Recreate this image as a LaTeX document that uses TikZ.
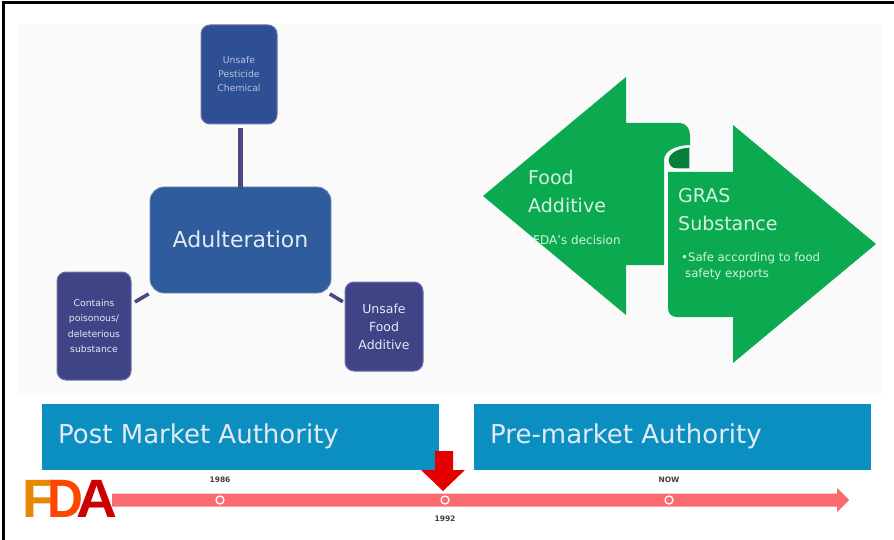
\documentclass[tikz,border=0pt]{standalone}
\usepackage{fontspec}
\setmainfont{DejaVu Sans}
\newfontfamily\logofont{Liberation Sans}
\usetikzlibrary{calc}
\definecolor{panelbg}{HTML}{FAFAFB}
\definecolor{bluemain}{HTML}{2F5C9C}
\definecolor{bluedark}{HTML}{3F4486}
\definecolor{bluetop}{HTML}{2E4F93}
\definecolor{linecol}{HTML}{4A4A82}
\definecolor{greena}{HTML}{0BAA50}
\definecolor{greend}{HTML}{067F3B}
\definecolor{teal}{HTML}{0A8FC0}
\definecolor{tline}{HTML}{FA6B70}
\definecolor{tl}{HTML}{E2EAF5}
\definecolor{tg}{HTML}{D4F2DF}
\tikzset{
  x=1pt,y=-1pt,
  rbox/.style={rounded corners=9pt,inner sep=0pt,align=center,text=tl},
  mainbox/.style={rbox,fill=bluemain,draw=bluemain!70!white,line width=.8pt,rounded corners=14pt,font=\fontsize{22}{26}\selectfont},
  subbox/.style={rbox,fill=bluedark,draw=bluedark!75!white,line width=1pt},
  conn/.style={draw=linecol,line width=4.4pt},
  band/.style={fill=teal,inner sep=0pt,anchor=north west},
  bandtext/.style={text=tl,inner sep=0pt,anchor=base west,font=\fontsize{26}{30}\selectfont},
  gtext/.style={text=tg,anchor=base west,inner sep=0pt},
  year/.style={text=black!75,font=\bfseries\fontsize{7.5}{9}\selectfont,inner sep=0pt},
  tick/.style={circle,draw=white,line width=1.3pt,fill=tline,minimum size=8pt,inner sep=0pt},
  logol/.style={inner sep=0pt,anchor=base west,font=\logofont\bfseries\fontsize{54}{54}\selectfont}
}
\begin{document}
\begin{tikzpicture}
\useasboundingbox (0,0) rectangle (894,540);
\fill[white] (0,0) rectangle (894,540);
\fill[panelbg] (18,24) rectangle (882,395);
\draw[black,line width=3pt] (3,540) -- (3,3) -- (894,3);
% Adulteration
\node[mainbox,minimum width=181pt,minimum height=106pt] (adult) at (240.5,240) {\raisebox{2pt}{Adulteration}};
\node[subbox,fill=bluetop,minimum width=76pt,minimum height=99pt,text=tl!75!bluetop,font=\fontsize{9.3}{14}\selectfont] (pest) at (239,74.5) {Unsafe\\Pesticide\\Chemical};
\node[subbox,minimum width=74pt,minimum height=108pt,font=\fontsize{9.3}{15.5}\selectfont] (poison) at (94,326) {Contains\\poisonous/\\deleterious\\substance};
\node[subbox,minimum width=78pt,minimum height=89pt,font=\fontsize{12.5}{18}\selectfont] (food) at (384,326.5) {Unsafe\\Food\\Additive};
\draw[conn,shorten >=4pt,shorten <=-2pt] (adult.north) -- (adult.north |- pest.south);
\draw[conn,line width=3.6pt,shorten <=1pt,shorten >=4pt] (adult) -- (poison);
\draw[conn,line width=3.6pt,shorten <=1pt,shorten >=2pt] (adult) -- (food);
% Green arrows
\fill[greena] (483,196) -- (626,77) -- (626,123) -- (680,123)
  .. controls (686,123) and (690,129) .. (690,135) -- (690,145)
  .. controls (678,145) and (664,150) .. (664,160) -- (664,265) -- (626,265) -- (626,315) -- cycle;
\fill[greend,draw=white,line width=1.2pt] (690,147) .. controls (680,147) and (668,152) .. (668,160)
  .. controls (668,165) and (671,169) .. (676,169) -- (690,169) -- cycle;
\fill[greena] (876,244) -- (733,125) -- (733,172) -- (668,172) -- (668,308)
  .. controls (668,314) and (672,317) .. (677,317) -- (733,317) -- (733,363) -- cycle;
\node[gtext,font=\fontsize{19}{22}\selectfont] (fa1) at (528,185) {Food};
\node[gtext,font=\fontsize{19}{22}\selectfont] (fa2) at (528,213) {Additive};
\node[gtext,font=\fontsize{12}{14}\selectfont] (fa3) at (533,244) {FDA's decision};
\node[gtext,font=\fontsize{19}{22}\selectfont] (gr1) at (678,203) {GRAS};
\node[gtext,font=\fontsize{19}{22}\selectfont] (gr2) at (678,230) {Substance};
\node[gtext,font=\fontsize{11.7}{14}\selectfont] (gr3) at (681,261) {•Safe according to food};
\node[gtext,font=\fontsize{11.7}{14}\selectfont] (gr4) at (685,277) {safety exports};
% Bands
\node[band,minimum width=397pt,minimum height=66pt] (post) at (42,404) {};
\node[band,minimum width=397pt,minimum height=66pt] (pre) at (474,404) {};
\node[bandtext] (postt) at (58,443) {Post Market Authority};
\node[bandtext] (pret) at (490,443) {Pre-market Authority};
% Timeline
\coordinate (tstart) at (112,500);
\coordinate (tend) at (849,500);
\fill[tline] (tstart)++(0,-6.5) -- (837,493.5) -- (837,488) -- (tend) -- (837,512) -- (837,506.5) -- (112,506.5) -- cycle;
\node[tick] (t86) at (220,500) {};
\node[tick] (t92) at (445,500) {};
\node[tick] (tnow) at (669,500) {};
\node[year] (l86) at (220,480) {1986};
\node[year] (l92) at (445,519) {1992};
\node[year] (lnow) at (669,480) {NOW};
% Red arrow
\fill[red!90!black] (435,451) -- (453,451) -- (453,470) -- (465,470) -- (443,491) -- (421,470) -- (435,470) -- cycle;
% Logo
\node[logol,text=orange!80!yellow!90!black,xscale=1] (lf) at (22,517) {F};
\node[logol,text=orange!55!red,xscale=.92] (ld) at (47,517) {D};
\node[logol,text=red!80!black,xscale=1.05] (la) at (76,517) {A};
\end{tikzpicture}
\end{document}
